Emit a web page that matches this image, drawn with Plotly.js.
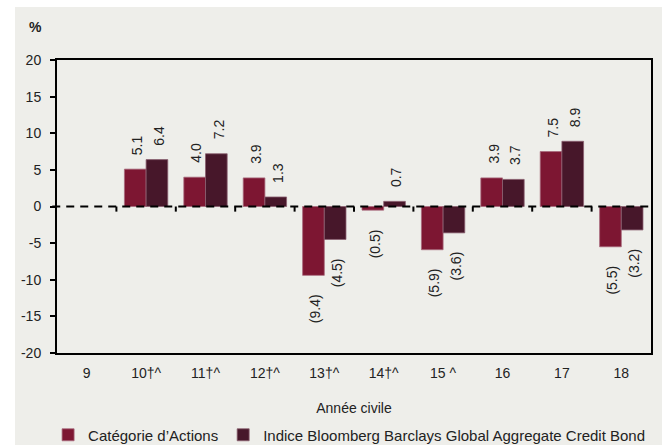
<!DOCTYPE html>
<html>
<head>
<meta charset="utf-8">
<script src="https://cdn.plot.ly/plotly-3.0.1.min.js"></script>
<style>html,body{margin:0;padding:0;background:#fff;}#chart{width:670px;height:445px;}</style>
</head>
<body>
<div id="chart"></div>
<script>
const categories = ['9', '10†^', '11†^', '12†^', '13†^', '14†^', '15 ^', '16', '17', '18'];
const fundName = 'Catégorie d’Actions';
const indexName = 'Indice Bloomberg Barclays Global Aggregate Credit Bond';
const fundReturns = [null, 5.1, 4.0, 3.9, -9.4, -0.5, -5.9, 3.9, 7.5, -5.5];
const indexReturns = [null, 6.4, 7.2, 1.3, -4.5, 0.7, -3.6, 3.7, 8.9, -3.2];
const yTicks = [-20, -15, -10, -5, 0, 5, 10, 15, 20];

const FONT = 'Liberation Sans, Arial, sans-serif';
const fundColor = '#7d1632';
const indexColor = '#47172a';
const bg = '#eeeeea';

function fmt(v) {
  return v < 0 ? '(' + Math.abs(v).toFixed(1) + ')' : v.toFixed(1);
}

const traces = [
  {type: 'bar', name: fundName, x: categories, y: fundReturns,
   marker: {color: fundColor, line: {color: '#a86a7c', width: 0.8}}, hoverinfo: 'skip'},
  {type: 'bar', name: indexName, x: categories, y: indexReturns,
   marker: {color: indexColor, line: {color: '#8a6070', width: 0.8}}, hoverinfo: 'skip'}
];

const annotations = [];
[[fundReturns, -9], [indexReturns, 13]].forEach(([vals, dx]) => {
  vals.forEach((v, i) => {
    if (v === null) return;
    annotations.push({
      x: i, y: v, xref: 'x', yref: 'y', showarrow: false,
      text: fmt(v), textangle: -90, xshift: dx,
      yanchor: v < 0 ? 'top' : 'bottom', yshift: v < 0 ? -17 : 12,
      font: {family: FONT, size: 14, color: '#222'}
    });
  });
});
annotations.push({
  xref: 'paper', yref: 'paper', x: -0.05, y: 1.113, xanchor: 'left', yanchor: 'middle', showarrow: false,
  text: '<b>%</b>', font: {family: FONT, size: 14, color: '#222'}
});

const shapes = [
  {type: 'rect', xref: 'paper', yref: 'paper', x0: -0.0707, x1: 1.0185, y0: -0.32, y1: 1.181,
   fillcolor: bg, line: {width: 0}, layer: 'below'},
  {type: 'line', xref: 'paper', yref: 'y', x0: -0.008, x1: 1, y0: 0, y1: 0,
   line: {color: '#000', width: 2, dash: '8px,6px'}, layer: 'above'}
];
for (let i = 0; i < categories.length - 1; i++) {
  shapes.push({type: 'line', xref: 'x', yref: 'y', x0: i + 0.5, x1: i + 0.5, y0: 0, y1: -0.7,
    line: {color: '#000', width: 2}, layer: 'above'});
}

const layout = {
  width: 670, height: 445,
  margin: {l: 57, r: 19, t: 60, b: 92, autoexpand: false},
  paper_bgcolor: '#ffffff', plot_bgcolor: 'rgba(0,0,0,0)',
  font: {family: FONT, size: 14, color: '#222'},
  barmode: 'group', bargap: 0.27, bargroupgap: 0,
  showlegend: true,
  legend: {orientation: 'h', x: -0.015, xanchor: 'left', y: -0.28, yanchor: 'middle',
    font: {family: FONT, size: 15, color: '#222'}, bgcolor: 'rgba(0,0,0,0)', itemwidth: 30, traceorder: 'normal'},
  xaxis: {type: 'category', range: [-0.5, categories.length - 0.5], autorange: false,
    showline: true, mirror: true, linecolor: '#000', linewidth: 2,
    ticks: '', showgrid: false, zeroline: false, ticklabelstandoff: 6, tickangle: 0,
    tickfont: {family: FONT, size: 14, color: '#222'},
    title: {text: 'Année civile', standoff: 23, font: {family: FONT, size: 14, color: '#222'}}},
  yaxis: {range: [-20, 20], tickvals: yTicks, ticktext: yTicks.map(String), showline: true, mirror: true,
    linecolor: '#000', linewidth: 2, ticks: 'outside', ticklen: 5, tickwidth: 2, tickcolor: '#000',
    showgrid: false, zeroline: false, ticklabelstandoff: 6,
    tickfont: {family: FONT, size: 14, color: '#222'}},
  shapes: shapes,
  annotations: annotations
};

Plotly.newPlot('chart', traces, layout, {displayModeBar: false, staticPlot: true});
</script>
</body>
</html>
